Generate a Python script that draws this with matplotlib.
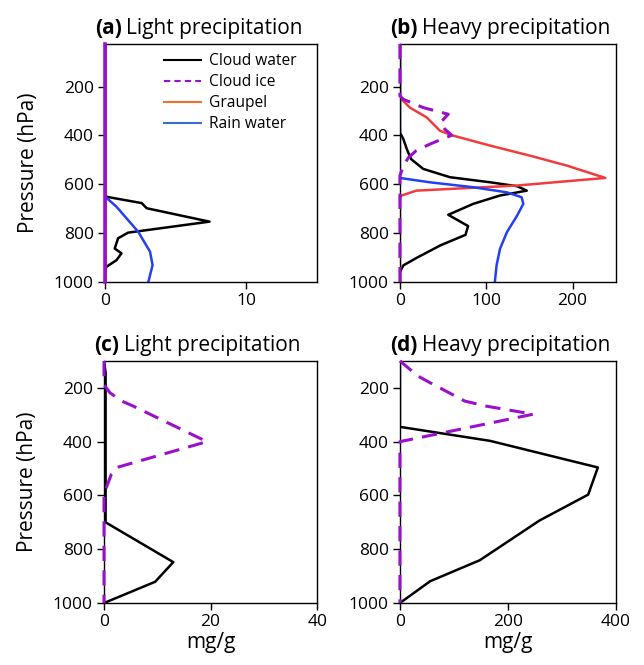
# -*- coding: utf-8 -*-
import matplotlib
matplotlib.use("Agg")
import matplotlib.pyplot as plt
from matplotlib.lines import Line2D
import numpy as np

plt.rcParams['font.family'] = ['Open Sans', 'DejaVu Sans']

######## (a) Light precipitation ########
a_cw_p = [25, 650, 677, 698, 753, 798, 821, 863, 883, 911, 938, 955, 1000]
a_cw_x = [0, 0, 2.6, 2.95, 7.4, 1.64, 0.93, 0.69, 1.17, 0.81, 0.1, 0, 0]
a_rw_p = [25, 650, 691, 794, 876, 931, 1000]
a_rw_x = [0, 0, 0.8, 2.35, 3.19, 3.37, 3.07]
a_gr_p = [25, 1000]
a_gr_x = [0, 0]
a_ci_p = [25, 1000]
a_ci_x = [0, 0]

######## (b) Heavy precipitation ########
b_cw_p = [25, 388, 415, 456, 497, 537, 571, 592, 608, 626, 646, 680, 725, 771, 807, 850, 902, 932, 959, 1000]
b_cw_x = [0, 0, 4, 8, 13, 27, 58, 105, 136, 147, 116, 85, 56, 79, 76, 47, 19, 4, 0, 0]
b_ci_p = [25, 238, 252, 286, 313, 347, 374, 399, 435, 462, 490, 524, 565, 1000]
b_ci_x = [0, 0, 4, 27, 56, 47, 52, 60, 35, 19, 10, 4, 0, 0]
b_gr_p = [25, 245, 286, 326, 381, 399, 442, 483, 524, 574, 605, 626, 646, 655, 1000]
b_gr_x = [0, 0, 11.6, 31, 46.5, 60, 105, 151, 194, 238, 136, 19, 2, 0, 0]
b_rw_p = [25, 574, 592, 612, 633, 653, 680, 727, 796, 864, 932, 1000]
b_rw_x = [0, 0, 35, 85, 124, 141, 143, 136, 124, 116, 112, 110]

######## (c) Light precipitation ########
c_cw_p = [100, 144, 600, 700, 848, 921, 1000]
c_cw_x = [0, 0.3, 0.3, 0.3, 13, 9.6, 0]
c_ci_p = [100, 188, 218, 249, 268, 400, 496, 520, 594, 1000]
c_ci_x = [0, 0, 1.1, 3.3, 5.5, 19.3, 2.4, 1.4, 0, 0]

######## (d) Heavy precipitation ########
d_cw_p = [100, 345, 397, 496, 597, 693, 841, 919, 1000]
d_cw_x = [0, 0, 167, 367, 349, 259, 148, 56, 0]
d_ci_p = [100, 157, 181, 249, 268, 298, 400, 1000]
d_ci_x = [0, 34, 56, 120, 160, 247, 0, 0]

yticks = [200, 400, 600, 800, 1000]

c_cw = 'black'
c_ci = '#9b10cc'
c_gr = '#f03c3c'
c_rw = '#2440f0'
lw = 1.8

fig = plt.figure(figsize=(6.44, 6.65), dpi=100)
ax_a = fig.add_axes([0.163, 0.576, 0.329, 0.358])
ax_b = fig.add_axes([0.621, 0.576, 0.335, 0.358])
ax_c = fig.add_axes([0.1615, 0.0932, 0.331, 0.364])
ax_d = fig.add_axes([0.621, 0.0932, 0.335, 0.364])


def title(ax, tag, txt):
    t = ax.text(-0.045, 1.02, tag, transform=ax.transAxes, fontsize=15,
                fontweight='bold', ha='left', va='bottom')
    ax.annotate(txt, xy=(1, 0), xycoords=t, xytext=(3, 0),
                textcoords='offset points', fontsize=15, ha='left', va='bottom')


def style(ax, xlim, ytop, xticks):
    ax.set_xlim(*xlim)
    ax.set_ylim(1000, ytop)
    ax.set_xticks(xticks)
    ax.set_yticks(yticks)
    ax.tick_params(direction='out', length=5, width=1, labelsize=12.5, pad=3)
    for s in ax.spines.values():
        s.set_linewidth(1.0)


# (a)
ax_a.plot(a_cw_x, a_cw_p, color=c_cw, lw=lw)
ax_a.plot(a_rw_x, a_rw_p, color=c_rw, lw=lw)
ax_a.plot(a_gr_x, a_gr_p, color=c_gr, lw=lw)
ax_a.plot(a_ci_x, a_ci_p, color=c_ci, lw=2.6, clip_on=False, zorder=5)
style(ax_a, (0, 15), 25, [0, 10])
title(ax_a, '(a)', 'Light precipitation')
ax_a.set_ylabel('Pressure (hPa)', fontsize=15, labelpad=11)
handles = [Line2D([], [], color='black', lw=1.5),
           Line2D([], [], color='#9b10cc', lw=1.5, ls=(0, (3, 2))),
           Line2D([], [], color='#f07030', lw=1.5),
           Line2D([], [], color='#3c6ad8', lw=1.5)]
ax_a.legend(handles, ['Cloud water', 'Cloud ice', 'Graupel', 'Rain water'],
            loc='upper right', frameon=False, fontsize=11.2, handlelength=2.4,
            handletextpad=0.5, labelspacing=0.32, borderaxespad=0.5,
            bbox_to_anchor=(0.97, 1.02))

# (b)
ax_b.plot(b_cw_x, b_cw_p, color=c_cw, lw=lw)
ax_b.plot(b_gr_x, b_gr_p, color=c_gr, lw=lw)
ax_b.plot(b_rw_x, b_rw_p, color=c_rw, lw=lw)
ax_b.plot(b_ci_x, b_ci_p, color=c_ci, lw=2.2, ls=(0, (5, 3)), clip_on=False, zorder=5)
style(ax_b, (0, 250), 25, [0, 100, 200])
title(ax_b, '(b)', 'Heavy precipitation')

# (c)
ax_c.plot(c_cw_x, c_cw_p, color=c_cw, lw=lw)
ax_c.plot(c_ci_x, c_ci_p, color=c_ci, lw=2.2, ls=(0, (5, 3)), clip_on=False, zorder=5)
style(ax_c, (0, 40), 100, [0, 20, 40])
title(ax_c, '(c)', 'Light precipitation')
ax_c.set_ylabel('Pressure (hPa)', fontsize=15, labelpad=11)
ax_c.set_xlabel('mg/g', fontsize=15, labelpad=1)

# (d)
ax_d.plot(d_cw_x, d_cw_p, color=c_cw, lw=lw)
ax_d.plot(d_ci_x, d_ci_p, color=c_ci, lw=2.2, ls=(0, (5, 3)), clip_on=False, zorder=5)
style(ax_d, (0, 400), 100, [0, 200, 400])
title(ax_d, '(d)', 'Heavy precipitation')
ax_d.set_xlabel('mg/g', fontsize=15, labelpad=1)

plt.savefig("out.png", dpi=100)
